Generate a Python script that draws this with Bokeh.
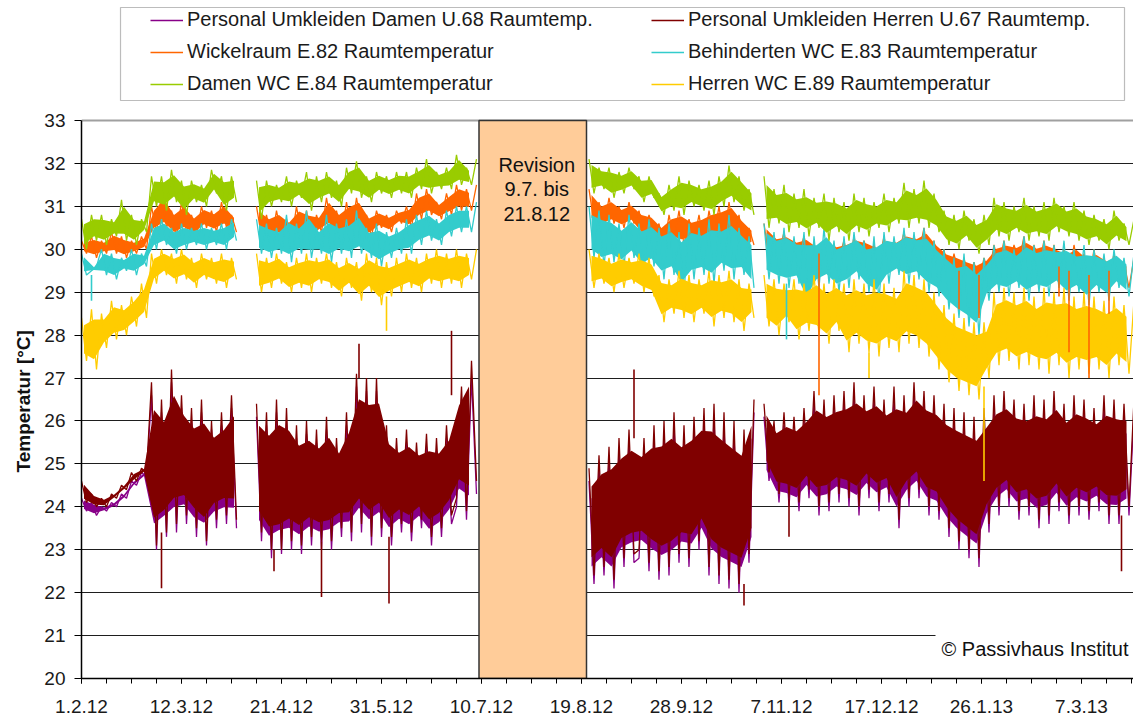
from datetime import datetime
from bokeh.plotting import figure
from bokeh.models import (Range1d, FixedTicker, Span, Label, Legend, LegendItem,
                          BoxAnnotation, Title)
from bokeh.embed import file_html
from bokeh.resources import INLINE

# ---------------- data ----------------
ORIGIN = "1.2.12"
tick_labels = ["1.2.12", "12.3.12", "21.4.12", "31.5.12", "10.7.12", "19.8.12",
               "28.9.12", "7.11.12", "17.12.12", "26.1.13", "7.3.13"]
y_ticks = list(range(20, 34))
segment_starts = ["1.2.12", "11.4.12", "22.8.12", "31.10.12"]
STEP_DAYS = 2
revision_period = ("9.7.12", "21.8.12")
revision_text = ["Revision", "9.7. bis", "21.8.12"]
copyright_text = "© Passivhaus Institut"
y_title = "Temperatur [°C]"

names = ["Personal Umkleiden Damen U.68 Raumtemp.",
         "Personal Umkleiden Herren U.67 Raumtemp.",
         "Wickelraum E.82 Raumtemperatur",
         "Behinderten WC E.83 Raumtemperatur",
         "Damen WC E.84 Raumtemperatur",
         "Herren WC E.89 Raumtemperatur"]
colors = ["#880088", "#800000", "#FF6600", "#33CCCC", "#99CC00", "#FFCC00"]

# sampled daily highs / lows (alternating), one list per measuring period
# Damen U.68
U68_A = [24.2, 23.9, 24.1, 23.8, 24.0, 23.9, 24.1, 24.0, 24.3, 24.2, 24.6, 24.5, 24.8, 24.7, 26.6, 23.0,
         26.2, 23.3, 26.9, 23.4, 26.3, 23.6, 26.0, 23.3, 26.2, 23.1, 25.8, 23.5, 25.9, 23.6, 26.3, 23.5]
U68_B = [26.1, 23.2, 25.9, 22.8, 26.2, 22.9, 26.0, 23.0, 25.6, 22.9, 25.7, 23.1, 25.5, 23.0, 25.8, 23.0,
         25.3, 23.3, 25.9, 23.2, 26.8, 23.4, 26.7, 23.1, 26.7, 23.3, 25.6, 23.1, 25.3, 23.4, 25.5, 23.2,
         25.2, 23.5, 25.4, 23.1, 25.3, 23.3, 25.6, 23.6, 24.0, 26.5, 23.7, 27.0, 24.3]
U68_C = [24.6, 22.2, 24.9, 22.4, 25.1, 22.1, 25.3, 22.6, 25.5, 22.7, 22.8, 25.3, 22.5, 25.6, 22.3, 25.7,
         22.4, 25.9, 22.7, 25.6, 22.6, 25.8, 23.0, 26.0, 22.4, 26.1, 22.2, 25.9, 22.1, 25.7, 22.0, 25.5,
         22.7, 26.2]
U68_D = [26.1, 24.6, 25.7, 24.1, 25.9, 24.0, 25.8, 23.9, 26.0, 24.2, 26.4, 23.8, 26.2, 23.9, 26.3, 24.1,
         26.4, 24.0, 26.6, 23.8, 26.3, 24.2, 26.5, 23.9, 26.2, 24.1, 26.5, 23.5, 26.3, 24.0, 26.6, 24.2,
         26.4, 23.8, 26.3, 23.7, 26.1, 23.3, 26.0, 23.0, 25.9, 22.8, 25.8, 22.6, 26.0, 23.4, 26.3, 23.8,
         26.4, 24.0, 26.2, 23.7, 26.1, 23.8, 26.3, 23.5, 26.2, 23.6, 26.4, 23.9, 26.1, 23.6, 26.3, 23.8,
         26.2, 23.7, 26.0, 23.9, 26.3, 23.6, 26.2, 23.6, 26.1, 23.8, 26.2]

# Herren U.67
U67_A = [24.6, 24.1, 24.3, 24.0, 24.2, 24.0, 24.3, 24.2, 24.5, 24.4, 24.8, 24.6, 24.9, 24.8, 26.9, 23.1,
         26.5, 23.4, 27.2, 23.6, 26.6, 23.8, 26.3, 23.5, 26.5, 23.2, 26.0, 23.7, 26.2, 23.8, 26.6, 23.7]
U67_B = [26.4, 23.4, 26.2, 23.0, 26.5, 23.0, 26.3, 23.2, 25.9, 23.1, 26.0, 23.3, 25.8, 23.2, 26.1, 23.2,
         25.6, 23.5, 26.2, 23.4, 27.1, 23.6, 27.0, 23.3, 27.0, 23.5, 25.9, 23.3, 25.6, 23.6, 25.8, 23.4,
         25.5, 23.7, 25.7, 23.3, 25.6, 23.5, 25.9, 23.8, 24.2, 26.8, 23.9, 27.4, 24.6]
U67_C = [24.9, 22.4, 25.2, 22.6, 25.4, 22.3, 25.6, 22.8, 25.8, 22.9, 23.0, 25.6, 22.7, 25.9, 22.5, 26.0,
         22.6, 26.2, 22.9, 25.9, 22.8, 26.1, 23.2, 26.3, 22.6, 26.4, 22.4, 26.2, 22.3, 26.0, 22.2, 25.8,
         22.9, 26.5]
U67_D = [26.4, 24.8, 26.0, 24.3, 26.2, 24.2, 26.1, 24.1, 26.3, 24.4, 26.7, 24.0, 26.5, 24.1, 26.6, 24.3,
         26.7, 24.2, 26.9, 24.0, 26.6, 24.4, 26.8, 24.1, 26.5, 24.3, 26.8, 23.7, 26.6, 24.2, 26.9, 24.4,
         26.7, 24.0, 26.6, 23.9, 26.4, 23.5, 26.3, 23.2, 26.2, 23.0, 26.1, 22.8, 26.3, 23.6, 26.6, 24.0,
         26.7, 24.2, 26.5, 23.9, 26.4, 24.0, 26.6, 23.7, 26.5, 23.8, 26.7, 24.1, 26.4, 23.8, 26.6, 24.0,
         26.5, 23.9, 26.3, 24.1, 26.6, 23.8, 26.5, 23.8, 26.4, 24.0, 26.5]

# Wickelraum E.82
E82_A = [30.2, 29.9, 30.3, 29.8, 30.2, 29.9, 30.4, 29.9, 30.3, 29.8, 30.2, 29.9, 30.3, 30.0, 31.0, 30.4,
         31.3, 30.5, 30.9, 30.3, 31.1, 30.4, 30.8, 30.3, 31.0, 30.5, 30.9, 30.4, 31.1, 30.5, 30.8, 30.4]
E82_B = [31.0, 30.3, 30.8, 30.2, 30.9, 30.3, 30.7, 30.2, 31.0, 30.3, 30.9, 30.2, 30.8, 30.4, 31.2, 30.5,
         30.9, 30.3, 31.1, 30.4, 31.2, 30.5, 30.8, 30.3, 30.9, 30.5, 30.8, 30.4, 30.9, 30.6, 31.0, 30.5,
         31.3, 30.7, 31.4, 30.8, 31.1, 30.7, 31.3, 30.8, 31.5, 30.9, 31.4, 30.9, 31.5]
E82_C = [31.4, 30.6, 31.1, 30.5, 31.2, 30.6, 31.0, 30.5, 31.1, 30.6, 30.9, 30.3, 30.8, 30.4, 30.6, 30.0,
         30.8, 30.2, 30.9, 30.1, 30.7, 30.2, 30.8, 30.1, 30.9, 30.3, 31.0, 30.2, 31.1, 30.3, 30.8, 30.0,
         30.5, 30.1]
E82_D = [30.6, 29.8, 30.3, 29.9, 30.4, 29.7, 30.2, 29.9, 30.3, 29.8, 30.1, 29.8, 30.2, 29.7, 30.1, 29.8,
         30.2, 29.6, 30.3, 29.7, 30.2, 29.8, 30.1, 29.7, 30.3, 29.6, 30.2, 29.9, 30.4, 29.8, 30.3, 29.9,
         30.5, 29.7, 30.2, 29.5, 30.0, 29.3, 29.9, 29.3, 29.8, 29.2, 29.7, 29.2, 29.8, 29.4, 30.1, 29.6,
         30.2, 29.5, 30.1, 29.7, 30.3, 29.4, 30.1, 29.6, 30.2, 29.5, 30.1, 29.4, 30.0, 29.3, 30.1, 29.4,
         29.9, 29.2, 30.0, 29.2, 29.8, 29.3, 29.9, 29.3, 29.7, 29.1, 29.8]

# Behinderten WC E.83
E83_A = [29.9, 29.4, 29.5, 29.6, 30.0, 29.4, 29.9, 29.3, 29.8, 29.5, 30.0, 29.4, 29.9, 29.6, 30.6, 30.0,
         30.7, 30.1, 30.5, 29.9, 30.6, 30.0, 30.5, 30.1, 30.6, 30.0, 30.5, 30.1, 30.6, 30.0, 30.7, 30.2]
E83_B = [30.7, 29.9, 30.6, 29.8, 30.5, 29.9, 30.8, 29.7, 30.6, 29.9, 30.9, 29.8, 30.5, 29.9, 30.8, 29.7,
         30.6, 29.9, 30.7, 29.8, 30.9, 29.9, 30.5, 29.8, 30.6, 29.6, 30.4, 29.8, 30.5, 29.9, 30.7, 29.9,
         30.8, 30.1, 30.9, 30.2, 30.7, 30.1, 30.9, 30.3, 31.0, 30.4, 31.0, 30.4, 31.1]
E83_C = [31.0, 29.8, 30.9, 29.6, 30.8, 29.7, 30.6, 29.6, 30.8, 29.8, 30.6, 29.5, 30.7, 29.6, 30.5, 29.3,
         30.6, 29.4, 30.4, 29.0, 30.6, 29.3, 30.5, 29.4, 30.7, 29.2, 30.6, 29.5, 30.8, 29.3, 30.5, 29.4,
         30.3, 29.1]
E83_D = [30.6, 29.3, 30.4, 29.2, 30.5, 29.1, 30.3, 29.2, 30.4, 28.6, 30.3, 29.1, 30.5, 29.2, 30.2, 29.0,
         30.3, 29.1, 30.4, 29.3, 30.2, 29.0, 30.3, 28.8, 30.4, 29.2, 30.3, 29.4, 30.5, 29.2, 30.4, 29.3,
         30.5, 29.0, 30.2, 28.9, 30.0, 28.6, 29.8, 28.4, 29.9, 28.2, 29.7, 28.0, 29.8, 28.8, 30.1, 29.0,
         30.2, 28.9, 30.0, 29.1, 30.3, 28.8, 30.1, 29.0, 30.2, 28.9, 30.1, 29.1, 30.2, 28.8, 30.0, 29.0,
         30.1, 28.7, 30.0, 29.0, 29.9, 28.8, 30.0, 29.1, 29.8, 28.9, 29.9]

# Damen WC E.84
E84_A = [30.7, 30.0, 30.8, 30.2, 30.8, 30.1, 30.7, 30.3, 31.15, 30.2, 30.8, 30.1, 30.7, 30.4, 31.7, 31.0,
         31.7, 30.9, 31.85, 31.1, 31.6, 30.8, 31.6, 31.1, 31.5, 31.0, 31.85, 31.3, 31.7, 30.9, 31.7, 31.1]
E84_B = [31.6, 30.7, 31.6, 31.0, 31.5, 31.1, 31.7, 31.0, 31.6, 31.2, 31.8, 30.9, 31.7, 31.1, 31.8, 31.2,
         31.6, 31.0, 31.9, 31.3, 32.05, 31.2, 31.7, 31.1, 31.8, 31.3, 31.7, 31.2, 31.8, 31.3, 31.8, 31.2,
         31.9, 31.4, 32.1, 31.3, 31.8, 31.4, 31.9, 31.4, 32.2, 31.5, 31.9, 31.5, 32.1]
E84_C = [32.1, 31.3, 31.9, 31.4, 31.9, 31.2, 31.8, 31.3, 31.9, 31.4, 31.7, 31.1, 31.7, 31.2, 31.3, 30.8,
         31.5, 30.9, 31.7, 30.8, 31.6, 31.0, 31.5, 30.9, 31.6, 30.8, 31.7, 31.0, 31.95, 31.1, 31.7, 30.9,
         31.4, 30.8]
E84_D = [31.7, 30.5, 31.4, 30.6, 31.5, 30.4, 31.3, 30.5, 31.4, 30.3, 31.2, 30.5, 31.3, 30.2, 31.2, 30.4,
         31.1, 30.2, 31.3, 30.4, 31.2, 30.3, 31.1, 30.5, 31.3, 30.4, 31.2, 30.6, 31.55, 30.5, 31.4, 30.6,
         31.6, 30.5, 31.3, 30.4, 30.9, 30.1, 30.8, 30.0, 30.9, 30.2, 30.7, 29.9, 30.8, 30.1, 31.2, 30.3,
         31.1, 30.2, 31.0, 30.4, 31.2, 30.2, 31.0, 30.3, 31.1, 30.2, 31.2, 30.4, 31.0, 30.3, 31.1, 30.2,
         30.9, 30.1, 30.8, 30.2, 30.7, 30.0, 30.9, 30.2, 30.6, 30.1, 30.7]

# Herren WC E.89
E89_A = [28.4, 27.4, 28.6, 27.2, 28.5, 27.7, 28.8, 27.9, 28.7, 28.0, 28.9, 28.2, 29.2, 28.4, 29.9, 29.2,
         30.0, 29.4, 29.9, 29.2, 30.0, 29.3, 29.8, 29.1, 29.9, 29.3, 29.8, 29.2, 29.9, 29.1, 29.8, 29.3]
E89_B = [29.9, 29.0, 29.8, 29.1, 29.9, 29.2, 29.7, 29.0, 29.8, 29.1, 29.9, 29.0, 29.8, 29.2, 29.9, 29.1,
         29.7, 28.9, 29.8, 29.1, 29.7, 28.8, 29.9, 29.0, 29.8, 28.7, 29.7, 28.9, 29.8, 29.0, 29.9, 29.1,
         29.8, 29.0, 29.9, 29.2, 30.0, 29.1, 29.9, 29.2, 30.0, 29.1, 29.9, 29.3, 30.0]
E89_C = [30.0, 29.1, 29.9, 29.2, 29.8, 29.0, 29.9, 29.1, 29.8, 29.2, 29.9, 29.0, 29.8, 28.9, 29.4, 28.3,
         29.3, 28.5, 29.5, 28.4, 29.4, 28.3, 29.3, 28.5, 29.5, 28.2, 29.4, 28.4, 29.5, 28.3, 29.3, 28.1,
         29.2, 28.4]
E89_D = [29.4, 28.2, 29.3, 28.0, 29.2, 28.3, 29.3, 27.9, 29.2, 28.1, 29.4, 28.0, 29.2, 27.8, 29.3, 28.1,
         29.2, 27.6, 29.3, 27.8, 29.2, 27.6, 29.3, 27.5, 29.2, 27.7, 29.1, 27.6, 29.5, 27.8, 29.4, 27.7,
         29.3, 27.5, 29.0, 27.2, 28.7, 26.9, 28.5, 26.7, 28.4, 26.6, 28.3, 26.5, 28.3, 27.0, 29.0, 27.3,
         29.1, 27.4, 29.0, 27.2, 29.1, 27.3, 28.9, 27.2, 29.1, 27.1, 29.0, 27.3, 29.1, 27.0, 28.9, 27.2,
         29.0, 27.1, 28.9, 27.2, 28.8, 27.0, 28.9, 27.3, 28.7, 27.1, 28.8]

# single short peaks: (date, band value, peak value)
U68_spikes = []
U67_spikes = [("4.3.12", 23.4, 22.1), ("18.4.12", 23.0, 22.5), ("7.5.12", 23.2, 21.9),
              ("22.5.12", 27.0, 27.8), ("3.6.12", 23.3, 21.75), ("28.6.12", 26.6, 28.1),
              ("9.9.12", 25.6, 27.2), ("23.10.12", 22.2, 21.7), ("10.11.12", 24.2, 23.3),
              ("23.3.13", 23.8, 22.5)]
E82_spikes = [("22.11.12", 29.9, 26.6), ("17.1.13", 29.5, 28.6), ("25.1.13", 29.4, 28.4),
              ("26.2.13", 29.6, 28.9), ("2.3.13", 29.5, 27.6), ("10.3.13", 29.4, 27.0),
              ("18.3.13", 29.5, 28.5)]
E83_spikes = [("5.2.12", 29.4, 28.8), ("9.11.12", 29.2, 27.9)]
E84_spikes = []
E89_spikes = [("2.6.12", 28.9, 28.1), ("12.12.12", 27.6, 27.0), ("27.1.13", 26.8, 24.6)]

series_segments = [
    [U68_A, U68_B, U68_C, U68_D],
    [U67_A, U67_B, U67_C, U67_D],
    [E82_A, E82_B, E82_C, E82_D],
    [E83_A, E83_B, E83_C, E83_D],
    [E84_A, E84_B, E84_C, E84_D],
    [E89_A, E89_B, E89_C, E89_D],
]
series_spikes = [U68_spikes, U67_spikes, E82_spikes, E83_spikes, E84_spikes, E89_spikes]

# ---------------- layout constants (reference pixel geometry) ----------------
PAGE_W, PAGE_H = 1133, 722
FRAME_LEFT_PX = 81          # x of y-axis
PX_PER_DAY = 2.5
Y_TOP_PX, Y_BOT_PX = 120, 678   # y of 33 and 20
PX_PER_DEG = (Y_BOT_PX - Y_TOP_PX) / (y_ticks[-1] - y_ticks[0])
CORE = 0.17   # solid band drawn over the inner part of each daily range


def to_day(label):
    return (datetime.strptime(label, "%d.%m.%y") - datetime.strptime(ORIGIN, "%d.%m.%y")).days


def day_at(px):
    return (px - FRAME_LEFT_PX) / PX_PER_DAY


def val_at(py):
    return y_ticks[-1] - (py - Y_TOP_PX) / PX_PER_DEG


FONT = "Liberation Sans"

p = figure(width=PAGE_W, height=PAGE_H,
           x_range=Range1d(0, day_at(PAGE_W)),
           y_range=Range1d(y_ticks[0], val_at(0)),
           output_backend="svg", toolbar_location=None,
           min_border_left=FRAME_LEFT_PX, min_border_right=0,
           min_border_top=0, min_border_bottom=PAGE_H - Y_BOT_PX)
p.outline_line_color = None
p.background_fill_color = "white"
p.border_fill_color = "white"

# grid
p.xgrid.visible = False
p.ygrid.ticker = FixedTicker(ticks=y_ticks[1:-1])
p.ygrid.grid_line_color = "#1e1e1e"
p.ygrid.grid_line_width = 1.2
p.add_layout(Span(location=y_ticks[-1], dimension="width", line_color="#a0a0a0",
                  line_width=2, level="underlay"))

# axes
tick_days = [to_day(t) for t in tick_labels]
p.xaxis.ticker = FixedTicker(ticks=tick_days, minor_ticks=list(range(0, 430, 10)))
p.xaxis.major_label_overrides = {d: t for d, t in zip(tick_days, tick_labels)}
p.yaxis.ticker = FixedTicker(ticks=y_ticks)
p.yaxis.bounds = (y_ticks[0], y_ticks[-1])
for ax in (p.xaxis[0], p.yaxis[0]):
    ax.axis_line_color = "black"
    ax.axis_line_width = 1.5
    ax.major_tick_line_color = "black"
    ax.major_tick_in = 0
    ax.major_label_text_font = FONT
    ax.major_label_text_font_size = "19px"
    ax.major_label_text_color = "#1a1a1a"
p.xaxis.major_tick_out = 5
p.xaxis.minor_tick_out = 5
p.xaxis.minor_tick_in = 0
p.xaxis.minor_tick_line_color = "black"
p.xaxis.major_label_standoff = 16
p.yaxis.major_tick_out = 7
p.yaxis.minor_tick_line_color = None
p.yaxis.major_label_standoff = 9

# y title (placed along the 20..33 part of the axis)
p.add_layout(Title(text=y_title, align="left", offset=206, vertical_align="middle",
                   text_font=FONT, text_font_size="19px", text_font_style="bold",
                   text_color="#111111", standoff=14), "left")

# data: each series = solid core of the daily range + the sampled min/max trace
renderers = []
for name, color, segs in zip(names, colors, series_segments):
    for start, vals in zip(segment_starts, segs):
        s = to_day(start)
        bx, blo, bhi = [], [], []
        for k in range(0, len(vals) - 1, 2):
            lo, hi = min(vals[k], vals[k + 1]), max(vals[k], vals[k + 1])
            bx.append(s + STEP_DAYS * (k + 0.5))
            blo.append(lo + CORE * (hi - lo))
            bhi.append(hi - CORE * (hi - lo))
        p.varea(x=bx, y1=blo, y2=bhi, fill_color=color, fill_alpha=1.0)
    xs, ys = [], []
    for start, vals in zip(segment_starts, segs):
        s = to_day(start)
        xs += [s + STEP_DAYS * i for i in range(len(vals))] + [float("nan")]
        ys += list(vals) + [float("nan")]
    r = p.line(xs, ys, line_color=color, line_width=1.3)
    renderers.append(r)

# short peaks drawn on top
for color, spikes in zip(colors, series_spikes):
    if spikes:
        sx = [to_day(d) for d, _, _ in spikes]
        p.segment(x0=sx, x1=sx, y0=[a for _, a, _ in spikes], y1=[b for _, _, b in spikes],
                  line_color=color, line_width=1.6)

# revision box
rs, re_ = to_day(revision_period[0]), to_day(revision_period[1])
p.quad(left=[rs], right=[re_], bottom=[y_ticks[0]], top=[y_ticks[-1]],
       fill_color="#FFCC99", line_color="#333333", line_width=1.5)
for txt, py in zip(revision_text, [164, 188, 213]):
    p.add_layout(Label(x=(rs + re_) / 2, y=val_at(py), x_offset=4, text=txt,
                       text_align="center", text_baseline="middle",
                       text_font=FONT, text_font_size="20px", text_color="#111111"))

# copyright
p.add_layout(Label(x=day_at(935), y=val_at(648), text=copyright_text,
                   text_align="left", text_baseline="middle",
                   text_font=FONT, text_font_size="20px", text_color="#111111",
                   background_fill_color="white", padding=6))

# legend (column-major order: left column then right column)
order = [0, 2, 4, 1, 3, 5]
legend = Legend(items=[LegendItem(label=names[i], renderers=[renderers[i]]) for i in order],
                ncols=2, orientation="vertical",
                location=(150 - FRAME_LEFT_PX, Y_BOT_PX - 95),
                glyph_width=33, glyph_height=22, label_height=22, label_width=455,
                label_standoff=4, spacing=9, padding=0, margin=0,
                border_line_alpha=0, background_fill_alpha=0,
                label_text_font=FONT, label_text_font_size="20px",
                label_text_color="#1a1a1a")
p.add_layout(legend)
p.add_layout(BoxAnnotation(left=day_at(120), right=day_at(1124), top=val_at(7), bottom=val_at(100),
                           fill_color=None, line_color="#222222", line_width=1.2))

open("out.html", "w").write(file_html(p, INLINE))
